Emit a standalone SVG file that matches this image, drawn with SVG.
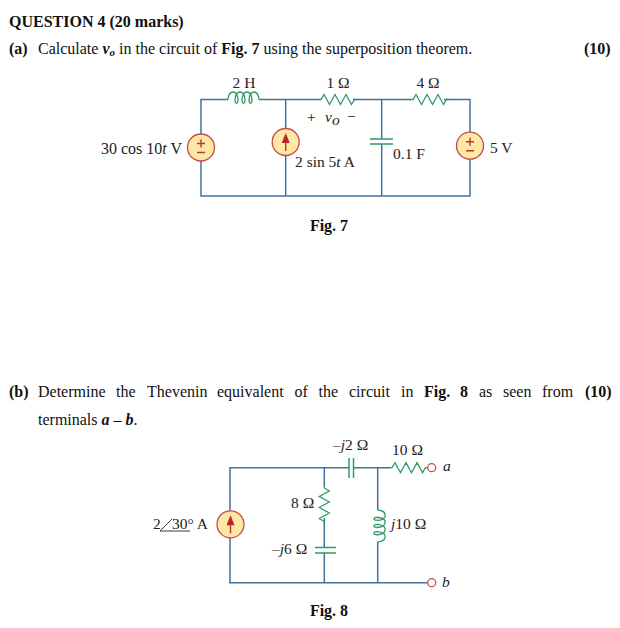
<svg xmlns="http://www.w3.org/2000/svg" xmlns:xlink="http://www.w3.org/1999/xlink" width="620" height="628" viewBox="0 0 620 628">
<style>
text{font-family:"Liberation Serif","Times New Roman",serif;font-size:16px;fill:#111}
.b{font-weight:bold}
.i{font-style:italic}
.l{font-size:15.5px;fill:#222}
.w{fill:none;stroke:#41719f;stroke-width:1.5}
.g{fill:none;stroke:#2f9a66;stroke-width:1.3}
.c{fill:none;stroke:#2f9a66;stroke-width:1.5}
.s{fill:#fde8a6;stroke:#c8494a;stroke-width:1.3}
.r{fill:none;stroke:#c0323a;stroke-width:1.4}
.a{fill:#b9252f}
.t{fill:#fff;stroke:#c8494a;stroke-width:1.3}
</style>
<defs>
<path id="res" d="M0 0h2l3-5 5.5 10 5.500-10 5.500 10 5.500-10 5.500 10 3-5h2"/>
<path id="ind" d="M0 0c1-10 9-10 10 0c0 5-3 5-3 0c1-10 9-10 10 0c0 5-3 5-3 0c1-10 9-10 10 0c0 5-3 5-3 0c1-10 9-10 10 0"/>
<g id="vs"><circle class="s" r="13.500"/><path class="r" d="M-4-4h8M0-8v8M-4 5h8"/></g>
<g id="cs"><circle class="s" r="13.500"/><path class="r" d="M0 9V-3"/><path class="a" d="M0-9l4 10h-8z"/></g>
</defs>

<g id="text">
<text class="b" x="9" y="27">QUESTION 4 (20 marks)</text>
<text x="9" y="54"><tspan class="b">(a)</tspan><tspan x="38">Calculate </tspan><tspan class="b i">v</tspan><tspan class="b i" font-size="11" dy="2">o</tspan><tspan dy="-2"> in the circuit of </tspan><tspan class="b">Fig. 7</tspan> using the superposition theorem.</text>
<text class="b" x="584" y="54">(10)</text>
<text class="b" x="329" y="231" text-anchor="middle">Fig. 7</text>
<text y="397"><tspan class="b" x="9">(b)</tspan><tspan x="38">Determine</tspan><tspan x="116">the</tspan><tspan x="147">Thevenin</tspan><tspan x="217">equivalent</tspan><tspan x="294.500">of</tspan><tspan x="318.500">the</tspan><tspan x="349">circuit</tspan><tspan x="401">in</tspan><tspan class="b" x="424">Fig.</tspan><tspan class="b" x="460">8</tspan><tspan x="479">as</tspan><tspan x="503">seen</tspan><tspan x="542">from</tspan><tspan class="b" x="585">(10)</tspan></text>
<text x="38" y="425">terminals <tspan class="b i">a</tspan> – <tspan class="b i">b</tspan>.</text>
<text class="b" x="329" y="616" text-anchor="middle">Fig. 8</text>
</g>

<g id="connectors">
<path class="w" d="M228 99.500H201V196H470V99.500H444M259 99.500H319M353 99.500H411M285.700 99.500V196M381.700 99.500V139M381.700 144V196"/>
<path class="w" d="M349 467.700H230V582.700H427M353.500 467.700H390M324.300 467.700V486M324.300 518V547.500M324.300 553V582.700M377.700 467.700V510M377.700 542V582.700"/>
</g>

<g id="L1"><use xlink:href="#ind" href="#ind" class="g" transform="translate(228 99.500)"/><text class="l" x="244" y="88" text-anchor="middle">2 H</text></g>
<g id="R1"><use xlink:href="#res" href="#res" class="g" transform="translate(319 99.500)"/><text class="l" x="338" y="88" text-anchor="middle">1 Ω</text></g>
<g id="R2"><use xlink:href="#res" href="#res" class="g" transform="translate(411 99.500)"/><text class="l" x="428" y="88" text-anchor="middle">4 Ω</text></g>
<g id="vo"><text class="l" x="307" y="122">+</text><text class="l i" x="325" y="122">v</text><text class="l i" x="332" y="125" font-size="10">o</text><text class="l" x="347" y="122">−</text></g>
<g id="V1"><use xlink:href="#vs" href="#vs" transform="translate(201 147.500)"/><text class="l" x="101" y="154" style="font-size:16px">30 cos 10<tspan class="i">t</tspan> V</text></g>
<g id="I1"><use xlink:href="#cs" href="#cs" transform="translate(285.700 142)"/><text class="l" x="295" y="167">2 sin 5<tspan class="i">t</tspan> A</text></g>
<g id="C1"><path class="c" d="M370 139H393M370 144H393"/><text class="l" x="393" y="159">0.1 F</text></g>
<g id="V2"><use xlink:href="#vs" href="#vs" transform="translate(470 145.700)"/><text class="l" x="490" y="153">5 V</text></g>

<g id="I2"><use xlink:href="#cs" href="#cs" transform="translate(230.500 524.300)"/><text class="l" x="153" y="529">2</text><path d="M172 519L160 531H190" fill="none" stroke="#222" stroke-width="0.900"/><text class="l" x="172" y="529">30° A</text></g>
<g id="R3"><use xlink:href="#res" href="#res" class="g" transform="translate(324.300 486) rotate(90)"/><text class="l" x="291" y="508">8 Ω</text></g>
<g id="C2"><path class="c" d="M315 547.500H336M315 553H336"/><text class="l" x="272" y="554">–<tspan class="i">j</tspan>6 Ω</text></g>
<g id="C3"><path class="c" d="M349 458V478M353.500 458V478"/><text class="l" x="333" y="450">–<tspan class="i">j</tspan>2 Ω</text></g>
<g id="R4"><use xlink:href="#res" href="#res" class="g" transform="translate(390 467.700)"/><text class="l" x="392" y="455">10 Ω</text></g>
<g id="L2"><use xlink:href="#ind" href="#ind" class="g" transform="translate(377.700 510) rotate(90) scale(1.03 1)"/><text class="l" x="391" y="529"><tspan class="i">j</tspan>10 Ω</text></g>
<g id="a"><circle class="t" cx="431.700" cy="467.700" r="4"/><text class="l i" x="443" y="471">a</text></g>
<g id="b"><circle class="t" cx="431.700" cy="582.700" r="4"/><text class="l i" x="442" y="587">b</text></g>
</svg>
